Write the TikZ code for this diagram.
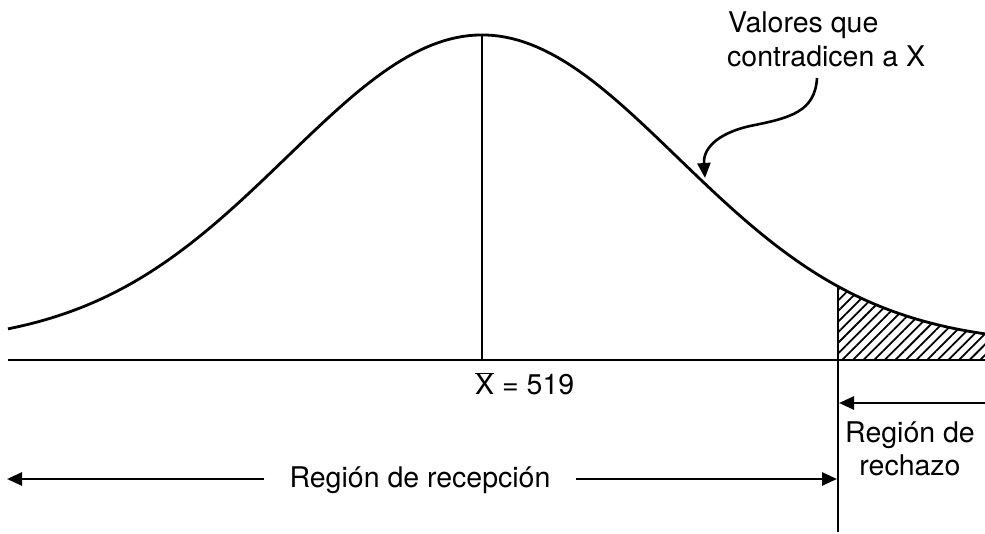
\documentclass[tikz,border=0pt]{standalone}
\usepackage{fontspec}
\setmainfont{TeX Gyre Heros}
\usetikzlibrary{arrows.meta,patterns.meta}
\begin{document}
\begin{tikzpicture}[x=1pt,y=-1pt,
  lbl/.style={font=\fontsize{28.5}{34}\selectfont, inner sep=0pt},
  tipline/.style={line width=2.6pt,-{Triangle[length=15pt,width=13pt]}},
  curveline/.style={line width=2.8pt}]
\useasboundingbox (0,0) rectangle (985,534);
% coordinates
\coordinate (L) at (8,360);
\coordinate (R) at (985,360);
\coordinate (peak) at (482,35);
\coordinate (mu) at (482,360);
\coordinate (ctop) at (838,286);
\coordinate (cbot) at (838,532);
% hatched tail
\fill[pattern={Lines[angle=45,distance=7.5pt,line width=1.8pt]}]
  (838,360) -- plot[domain=8.38:9.85,samples=40] ({100*\x},{345-310*exp(-((\x-4.82)^2)/7.605)}) -- (985,360) -- cycle;
% curve
\draw[curveline] plot[domain=0.08:9.85,samples=160] ({100*\x},{345-310*exp(-((\x-4.82)^2)/7.605)});
% axes
\draw[line width=2.8pt] (L) -- (R);
\draw[line width=1.6pt] (peak) -- (mu);
\draw[line width=2.4pt] (ctop) -- (cbot);
% labels
\node[lbl,anchor=base west] (xbar) at (475,395) {$\overline{\hbox{X}}$ = 519};
\node[lbl,anchor=base west] (val1) at (728,33) {Valores que};
\node[lbl,anchor=base west] (val2) at (727,67) {contradicen a X};
\node[lbl,anchor=base] (rech1) at (910,442) {Región de};
\node[lbl,anchor=base] (rech2) at (910,475) {rechazo};
\node[lbl,anchor=base,inner xsep=25pt] (recep) at (420,487) {Región de recepción};
% arrows
\coordinate (va) at (817,78);
\coordinate (vt) at (705,178);
\draw[tipline] (va) .. controls (815,112) and (790,118) .. (750,126) .. controls (715,134) and (703,150) .. (vt);
\coordinate (rr) at (985,403);
\coordinate (rt) at (839,403);
\draw[tipline] (rr) -- (rt);
\coordinate (le) at (7,479);
\coordinate (re) at (837,479);
\draw[tipline] (recep.west |- le) -- (le);
\draw[tipline] (recep.east |- re) -- (re);
\end{tikzpicture}
\end{document}
